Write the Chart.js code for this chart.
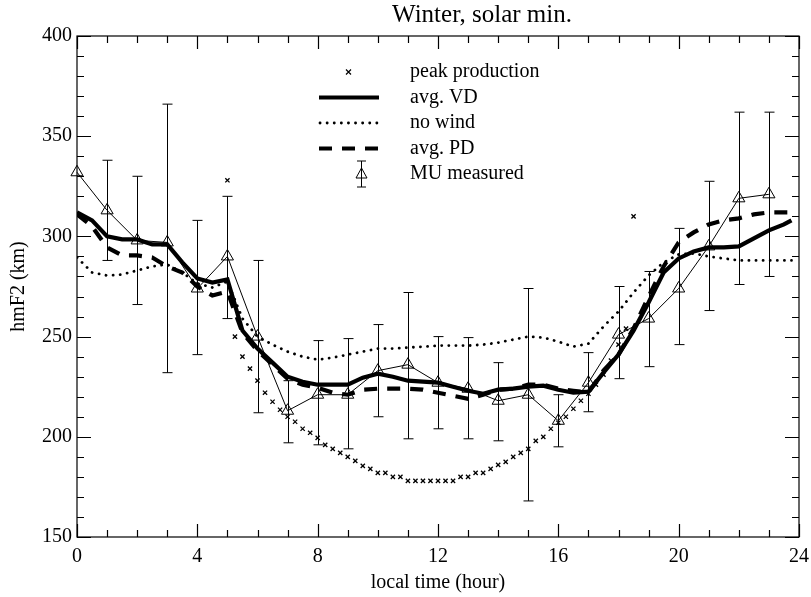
<!DOCTYPE html>
<html>
<head>
<meta charset="utf-8">
<script src="https://cdn.jsdelivr.net/npm/chart.js@4.4.1/dist/chart.umd.min.js"></script>
<style>
  html, body { margin: 0; padding: 0; background: #fff; }
  #wrap { width: 811px; height: 597px; }
</style>
</head>
<body>
<div id="wrap"><canvas id="hmf2" width="811" height="597"></canvas></div>
<script>
// hmF2 over local time, winter / solar minimum
const lineHours = [0, 0.5, 1, 1.5, 2, 2.5, 3, 3.5, 4, 4.5, 5, 5.5, 6, 6.5, 7, 7.5, 8, 8.5, 9, 9.5,
  10, 10.5, 11, 11.5, 12, 12.5, 13, 13.5, 14, 14.5, 15, 15.5, 16, 16.5, 17, 17.5, 18, 18.5, 19, 19.5,
  20, 20.5, 21, 21.5, 22, 22.5, 23, 23.5, 23.75];
const avgVD = [312, 308, 300, 298.5, 298.5, 296, 296, 287, 279, 277, 278.5, 253, 244, 237, 230, 227.5, 226, 226, 226, 229.5,
  231.5, 230, 228, 227.5, 227, 225, 223, 221.5, 223.5, 224, 225, 225.5, 223.5, 222, 222.5, 232, 241, 253, 267, 282,
  289, 292.5, 294.5, 294.5, 295, 299, 303, 306, 308];
const noWind = [289.5, 282, 280.5, 281, 283, 285, 286, 282, 276.5, 274.5, 277.5, 259, 250, 246, 242.5, 240, 238.5, 239.5, 241, 242.5,
  244, 244, 244.5, 245, 245.5, 245.5, 245.5, 246, 247, 248.5, 250, 249.5, 247.5, 245, 246.5, 255, 262.5, 272, 280.5, 287,
  291, 291.5, 290, 289, 288, 288, 288, 288, 288];
const avgPD = [311, 305, 294.5, 290.5, 290.5, 289.5, 285, 282, 275, 270.5, 272.5, 252, 243, 236, 229, 226, 224.5, 222, 221, 223.5,
  224, 224, 224, 223.5, 222, 220.5, 219, 221, 223.5, 224, 226, 226, 224, 223, 222, 233, 241, 254, 270, 285,
  297, 302, 306, 308, 309, 311, 312, 312, 312];

const peakHours = [5, 5.25, 5.5, 5.75, 6, 6.25, 6.5, 6.75, 7, 7.25, 7.5, 7.75, 8, 8.25, 8.5, 8.75, 9, 9.25, 9.5, 9.75,
  10, 10.25, 10.5, 10.75, 11, 11.25, 11.5, 11.75, 12, 12.25, 12.5, 12.75, 13, 13.25, 13.5, 13.75, 14, 14.25, 14.5, 14.75,
  15, 15.25, 15.5, 15.75, 16, 16.25, 16.5, 16.75, 17, 17.25, 17.5, 17.75, 18, 18.25, 18.5];
const peakKm = [328, 250, 240, 234, 228, 222, 217.5, 213.5, 210, 207.5, 204, 202, 199.5, 196, 194, 192, 190, 188, 185.5, 184,
  182, 182, 180, 180, 178, 178, 178, 178, 178, 178, 178, 180, 180, 182, 182, 184, 186, 187.5, 190, 192,
  194, 198, 200, 204, 207, 210, 214, 218, 221.5, 226, 231, 238, 246, 254, 310];

const muHours = [0, 1, 2, 3, 4, 5, 6, 7, 8, 9, 10, 11, 12, 13, 14, 15, 16, 17, 18, 19, 20, 21, 22, 23];
const muKm   = [332, 313, 298, 297, 274, 290, 250, 213, 221, 221, 233, 236, 227, 224, 218, 221, 208, 227, 251, 259, 274, 295, 319, 321];
const muLow  = [null, 288, 266, 232, 241, 259, 212, 197, 196, 194, 210, 199, 204, 199, 198, 168, 195, 212.5, 229, 235, 246, 263, 276, 280];
const muHigh = [null, 338, 330, 366, 308, 320, 288, 228, 248, 249, 256, 272, 250, 249.5, 237, 274, 221, 242, 275, 282.5, 304, 327.5, 362, 362];

const xTicks = [0, 4, 8, 12, 16, 20, 24];
const yTicks = [150, 200, 250, 300, 350, 400];

const SERIF = "'Liberation Serif', 'DejaVu Serif', serif";
const pts = (xs, ys) => xs.map((x, i) => ({ x: x, y: ys[i] }));

// box with inward ticks on all four sides
const frameTicks = {
  id: 'frameTicks',
  afterDatasetsDraw(chart) {
    const { ctx, chartArea: a, scales: { x, y } } = chart;
    ctx.save();
    ctx.strokeStyle = '#000';
    ctx.lineWidth = 1.2;
    ctx.strokeRect(a.left, a.top, a.right - a.left, a.bottom - a.top);
    ctx.beginPath();
    for (let h = 0; h <= 24; h++) {
      const px = Math.round(x.getPixelForValue(h)) + 0.5;
      const len = h % 4 === 0 ? 13 : 7;
      ctx.moveTo(px, a.bottom); ctx.lineTo(px, a.bottom - len);
      ctx.moveTo(px, a.top); ctx.lineTo(px, a.top + len);
    }
    for (let v = 150; v <= 400; v += 10) {
      const py = Math.round(y.getPixelForValue(v)) + 0.5;
      const len = v % 50 === 0 ? 14 : 7;
      ctx.moveTo(a.left, py); ctx.lineTo(a.left + len, py);
      ctx.moveTo(a.right, py); ctx.lineTo(a.right - len, py);
    }
    ctx.stroke();
    ctx.restore();
  }
};

// vertical error bars with caps on the MU points
const errorBars = {
  id: 'errorBars',
  afterDatasetsDraw(chart) {
    const { ctx, scales: { x, y } } = chart;
    ctx.save();
    ctx.strokeStyle = '#000';
    ctx.lineWidth = 1;
    ctx.beginPath();
    muHours.forEach((h, i) => {
      if (muLow[i] == null) return;
      const px = Math.round(x.getPixelForValue(h)) + 0.5;
      const top = y.getPixelForValue(muHigh[i]);
      const bot = y.getPixelForValue(muLow[i]);
      ctx.moveTo(px, top); ctx.lineTo(px, bot);
      ctx.moveTo(px - 5, top); ctx.lineTo(px + 5, top);
      ctx.moveTo(px - 5, bot); ctx.lineTo(px + 5, bot);
    });
    ctx.stroke();
    ctx.restore();
  }
};

// title and in-plot legend
const annotations = {
  id: 'annotations',
  afterDraw(chart) {
    const { ctx } = chart;
    const ds = chart.data.datasets;
    ctx.save();
    ctx.fillStyle = '#000';
    ctx.font = '25px ' + SERIF;
    ctx.textAlign = 'center';
    ctx.textBaseline = 'middle';
    ctx.fillText('Winter, solar min.', 482, 15);

    const x0 = 319, x1 = 379, tx = 410, top = 72, dy = 25.5;
    ctx.font = '20px ' + SERIF;
    ctx.textAlign = 'left';
    ds.forEach((d, i) => {
      ctx.fillText(d.label, tx, top + i * dy);
    });
    ctx.strokeStyle = '#000';
    // peak production
    let yy = top;
    ctx.lineWidth = 1.2;
    ctx.beginPath();
    ctx.moveTo(346, yy - 2.5); ctx.lineTo(351, yy + 2.5);
    ctx.moveTo(351, yy - 2.5); ctx.lineTo(346, yy + 2.5);
    ctx.stroke();
    // avg. VD
    yy = top + dy;
    ctx.lineWidth = 4;
    ctx.beginPath(); ctx.moveTo(x0, yy); ctx.lineTo(x1, yy); ctx.stroke();
    // no wind
    yy = top + 2 * dy;
    ctx.lineWidth = 2.8; ctx.lineCap = 'round'; ctx.setLineDash([0.1, 7]);
    ctx.beginPath(); ctx.moveTo(x0 + 1, yy); ctx.lineTo(x1 - 1, yy); ctx.stroke();
    // avg. PD
    yy = top + 3 * dy;
    ctx.lineWidth = 4; ctx.lineCap = 'butt'; ctx.setLineDash([13, 10]);
    ctx.beginPath(); ctx.moveTo(x0, yy); ctx.lineTo(x1, yy); ctx.stroke();
    ctx.setLineDash([]);
    // MU measured
    yy = top + 4 * dy;
    ctx.lineWidth = 1;
    ctx.beginPath();
    ctx.moveTo(361.5, yy - 13); ctx.lineTo(361.5, yy + 13);
    ctx.moveTo(357, yy - 13); ctx.lineTo(366, yy - 13);
    ctx.moveTo(357, yy + 13); ctx.lineTo(366, yy + 13);
    ctx.moveTo(361.5, yy - 6); ctx.lineTo(367, yy + 4); ctx.lineTo(356, yy + 4); ctx.closePath();
    ctx.stroke();
    ctx.restore();
  }
};

new Chart(document.getElementById('hmf2'), {
  type: 'scatter',
  data: {
    datasets: [
      {
        label: 'peak production', data: pts(peakHours, peakKm), showLine: false,
        pointStyle: 'crossRot', pointRadius: 3, borderColor: '#000', borderWidth: 1.3, order: 1
      },
      {
        label: 'avg. VD', data: pts(lineHours, avgVD), showLine: true, borderColor: '#000',
        borderWidth: 4.2, pointRadius: 0, tension: 0, order: 2
      },
      {
        label: 'no wind', data: pts(lineHours, noWind), showLine: true, borderColor: '#000',
        borderWidth: 2.8, borderDash: [0.1, 7], borderCapStyle: 'round', pointRadius: 0, tension: 0, order: 3
      },
      {
        label: 'avg. PD', data: pts(lineHours, avgPD), showLine: true, borderColor: '#000',
        borderWidth: 4.2, borderDash: [13, 10], pointRadius: 0, tension: 0, order: 4
      },
      {
        label: 'MU measured', data: pts(muHours, muKm), showLine: true, borderColor: '#000',
        borderWidth: 1, pointStyle: 'triangle', pointRadius: 7, pointBorderWidth: 1,
        pointBackgroundColor: 'rgba(0,0,0,0)', tension: 0, clip: false, order: 0
      }
    ]
  },
  options: {
    responsive: false,
    animation: false,
    devicePixelRatio: 1,
    layout: { padding: { left: 0, right: 12, top: 36, bottom: 2 } },
    plugins: { legend: { display: false }, tooltip: { enabled: false } },
    scales: {
      x: {
        type: 'linear', min: 0, max: 24,
        afterBuildTicks(s) { s.ticks = xTicks.map(v => ({ value: v })); },
        afterFit(s) { s.height = 58; s.paddingRight = 0; s.paddingLeft = 0; },
        ticks: { color: '#000', font: { family: SERIF, size: 20 }, padding: 8, maxRotation: 0, autoSkip: false },
        grid: { display: false, drawTicks: false },
        border: { display: false },
        title: { display: true, text: 'local time (hour)', color: '#000', font: { family: SERIF, size: 20 }, padding: { top: 0, bottom: 0 } }
      },
      y: {
        type: 'linear', min: 150, max: 400,
        afterBuildTicks(s) { s.ticks = yTicks.map(v => ({ value: v })); },
        afterFit(s) { s.width = 77; s.paddingTop = 0; s.paddingBottom = 0; },
        ticks: { color: '#000', font: { family: SERIF, size: 20 }, padding: 5 },
        grid: { display: false, drawTicks: false },
        border: { display: false },
        title: { display: true, text: 'hmF2 (km)', color: '#000', font: { family: SERIF, size: 20 }, padding: { top: 7, bottom: 0 } }
      }
    }
  },
  plugins: [frameTicks, errorBars, annotations]
});
</script>
</body>
</html>
